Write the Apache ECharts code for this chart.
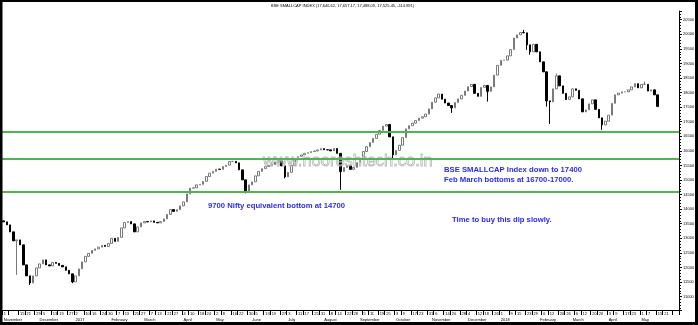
<!DOCTYPE html>
<html><head><meta charset="utf-8">
<script src="https://cdn.jsdelivr.net/npm/echarts@6/dist/echarts.min.js"></script>
<style>html,body{margin:0;padding:0;background:#fff}#c{width:698px;height:325px}</style>
</head><body><div id="c"></div>
<script>
// Two-trading-day bars of the BSE SMALLCAP index, Nov 2016 - May 2018
const firstDate = [2016, 10, 1];        // 1 Nov 2016 (month is 0-based)
const categoryCount = 207;              // axis runs to end of May 2018
const closes = [
13564,13461,13221,12912,12946,12775,12088,11711,11470,11711,
11985,12122,12260,12088,12054,12174,12140,12071,12020,11900,
11780,11505,11711,11951,12191,12380,12483,12586,12638,12696,
12758,12723,12826,12998,12895,13032,13358,13540,13574,13495,
13221,13392,13530,13574,13564,13598,13547,13530,13574,13667,
13821,13986,13924,13983,14113,14250,14525,14721,14731,14834,
14851,14954,15119,15235,15297,15372,15366,15462,15510,15634,
15640,15589,15349,15006,14594,14834,14937,15143,15297,15390,
15462,15503,15530,15613,15661,15486,15109,15263,15503,15699,
15812,15863,15918,15939,15977,15997,16032,16076,16039,16035,
16001,16080,15915,15290,15434,15493,15366,15434,15596,15743,
15977,16145,16286,16430,16570,16704,16848,16907,16481,15863,
16018,16196,16454,16756,16865,16951,17041,17123,17171,17264,
17442,17669,17820,17950,17772,17642,17556,17476,17659,17785,
17905,18053,18204,18283,17974,17871,18180,18245,18043,18197,
18599,18935,19107,19114,19261,19477,19872,19982,20061,20050,
19639,19398,19656,19398,19055,18712,17717,17682,18129,18575,
18231,17974,17761,17854,18129,18077,17785,17339,17408,17614,
17751,17425,17133,16893,17020,17226,17631,17923,17981,18026,
18026,18094,18197,18307,18163,18283,18283,18053,18094,17923,
17525
];
const firstOpen = 13600;
const wickLows = [[4,11745],[8,11400],[21,11460],[74,14542],[86,15057],[103,14662],[119,15750],
  [137,17305],[148,17693],[160,19467],[161,19300],[166,17521],[167,16927],[183,16721]];
const wickHighs = [[159,20153],[169,18650],[196,18379]];
const supportLevels = [16653, 15743, 14611];
const monthNames = ['January','February','March','April','May','June','July','August','September','October','November','December'];
const titleText = 'BSE SMALLCAP INDEX (17,646.62, 17,657.17, 17,488.09, 17,525.45, -114.891)';
const notes = [
  {text:'9700 Nifty equivalent bottom at 14700', x:208, y:206},
  {text:'BSE SMALLCAP Index down to 17400', x:444, y:170},
  {text:'Feb March bottoms at 16700-17000.', x:444, y:179.5},
  {text:'Time to buy this dip slowly.', x:452, y:220}
];
const watermark = 'www.nooreshtech.co.in';

// categories: every other weekday
const categories = [];
{
  const d = new Date(Date.UTC(firstDate[0], firstDate[1], firstDate[2]));
  let k = 0;
  while (categories.length < categoryCount) {
    const wd = d.getUTCDay();
    if (wd !== 0 && wd !== 6) { if (k % 2 === 0) categories.push(d.toISOString().slice(0, 10)); k++; }
    d.setUTCDate(d.getUTCDate() + 1);
  }
}
const lowMap = Object.fromEntries(wickLows), highMap = Object.fromEntries(wickHighs);
const ohlc = closes.map((c, i) => {
  const o = i === 0 ? firstOpen : closes[i - 1];
  let lo = Math.min(o, c), hi = Math.max(o, c);
  if (lowMap[i] !== undefined) lo = Math.min(lo, lowMap[i]);
  if (highMap[i] !== undefined) hi = Math.max(hi, highMap[i]);
  return [o, c, lo, hi];
});
const wd = s => new Date(s + 'T00:00:00Z').getUTCDay();
const newWeek = i => i === 0 || wd(categories[i]) < wd(categories[i - 1]);
const newMonth = i => i === 0 || categories[i].slice(5, 7) !== categories[i - 1].slice(5, 7);
const monthLabel = s => { const m = +s.slice(5, 7); return m === 1 ? s.slice(0, 4) : monthNames[m - 1]; };

const FONT = '"Liberation Sans", Arial, sans-serif';
const chart = echarts.init(document.getElementById('c'), null, {renderer: 'canvas'});
chart.setOption({
  animation: false,
  backgroundColor: '#fff',
  grid: {left: 2, right: 19, top: 11, bottom: 15},
  xAxis: {
    type: 'category', data: categories, position: 'bottom', boundaryGap: true,
    axisLine: {show: true, lineStyle: {color: '#000', width: 1}},
    axisTick: {show: true, interval: (i) => newWeek(i), length: 5, lineStyle: {color: '#000'}},
    axisLabel: {
      interval: (i) => newWeek(i) || newMonth(i),
      hideOverlap: false, showMinLabel: true, showMaxLabel: false,
      formatter: (v, i) => {
        const day = newWeek(i) ? String(+v.slice(8, 10)) : ' ';
        return newMonth(i) ? day + '\n' + monthLabel(v) : day;
      },
      fontSize: 4, lineHeight: 6, fontFamily: FONT, color: '#000', margin: 1, align: 'left', verticalAlign: 'top'
    },
    splitLine: {show: false}
  },
  yAxis: {
    type: 'value', position: 'right', min: 10540, max: 20800, splitNumber: 20, scale: true,
    axisLine: {show: true, lineStyle: {color: '#000', width: 1}},
    axisTick: {show: true, length: 3, lineStyle: {color: '#000'}},
    minorTick: {show: true, splitNumber: 5, length: 2, lineStyle: {color: '#000'}},
    axisLabel: {fontSize: 4, fontFamily: FONT, color: '#000', margin: 4,
      formatter: (v) => (Math.round(v) % 500 === 0 ? String(Math.round(v)) : '')},
    splitLine: {show: false}
  },
  series: [{
    type: 'candlestick', data: ohlc, barWidth: 2,
    itemStyle: {color: '#ffffff', color0: '#000000', borderColor: '#7a7a7a', borderColor0: '#000000', borderWidth: 1},
    markLine: {
      silent: true, symbol: ['none', 'none'], label: {show: false},
      lineStyle: {color: '#4cb84c', width: 2, type: 'solid'},
      data: supportLevels.map(v => ({yAxis: v}))
    }
  }],
  graphic: [
    {type: 'text', x: 271, y: 6, z: 10, style: {text: titleText, fontSize: 4, fontFamily: FONT, fill: '#000', verticalAlign: 'middle'}},
    {type: 'text', x: 263, y: 161.5, z: 5, style: {text: watermark, fontSize: 16.5, fontFamily: FONT,
      fill: 'rgba(255,255,255,0)', stroke: '#b8b8b8', lineWidth: 0.8, verticalAlign: 'middle'}},
    ...notes.map(n => ({type: 'text', x: n.x, y: n.y, z: 10,
      style: {text: n.text, fontSize: 7.7, fontWeight: 'bold', fontFamily: FONT, fill: '#2a2af0', verticalAlign: 'middle'}})),
    {type: 'rect', z: 20, shape: {x: 0, y: 0, width: 698, height: 2}, style: {fill: '#000'}},
    {type: 'rect', z: 20, shape: {x: 0, y: 0, width: 2.5, height: 325}, style: {fill: '#000'}},
    {type: 'rect', z: 20, shape: {x: 695, y: 0, width: 3, height: 325}, style: {fill: '#000'}},
    {type: 'rect', z: 20, shape: {x: 0, y: 322, width: 698, height: 3}, style: {fill: '#000'}}
  ]
});
</script></body></html>
